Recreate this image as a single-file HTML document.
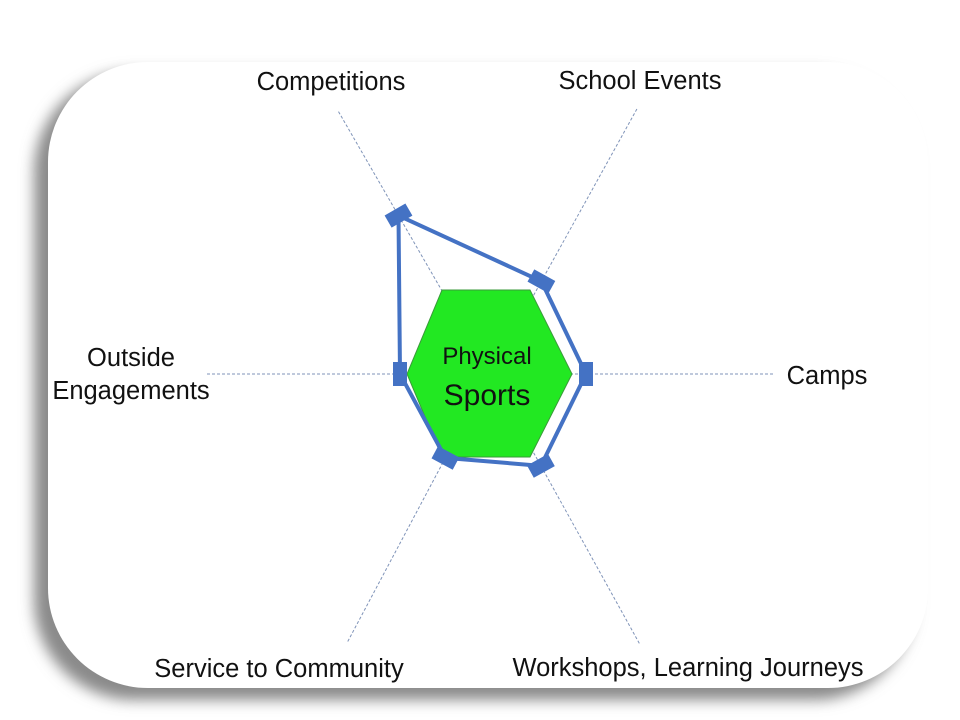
<!DOCTYPE html>
<html><head><meta charset="utf-8"><style>
html,body{margin:0;padding:0;background:#fff;width:960px;height:720px;overflow:hidden}
svg{display:block}
text{font-family:"Liberation Sans",sans-serif;fill:#111}
</style></head><body>
<svg id="chart" width="960" height="720" viewBox="0 0 960 720">
<defs>
<filter id="sh" x="-10%" y="-10%" width="120%" height="120%"><feGaussianBlur stdDeviation="7"/></filter>
</defs>
<rect x="34" y="72" width="880" height="628" rx="100" fill="#8a8a8a" filter="url(#sh)"/>
<rect x="48" y="62" width="880" height="626" rx="100" fill="#fff"/>
<g id="axes"></g>
<polygon points="442,290 530,290 572,374 530,457 442,457 407,374" fill="#22e822" stroke="#3a9a3a" stroke-width="1"/>
<text x="487" y="364" text-anchor="middle" font-size="24">Physical</text>
<text x="487" y="405" text-anchor="middle" font-size="30">Sports</text>
<g id="series"></g>
</svg>
<script>
const categories=["Camps","School Events","Competitions","Outside Engagements","Service to Community","Workshops, Learning Journeys"];
const values=[96,106,183,90,95,105];
const cx=490,cy=374;
const axisLens=[285,305,305,285,305,310];
const angles=[0,61,120,180,242,299];
const NS="http://www.w3.org/2000/svg";
function pt(v,i){const a=angles[i]*Math.PI/180;return [cx+v*Math.cos(a),cy-v*Math.sin(a)];}
const axes=document.getElementById('axes');
categories.forEach((c,i)=>{
  const [x,y]=pt(axisLens[i],i);
  const l=document.createElementNS(NS,'line');
  l.setAttribute('x1',cx);l.setAttribute('y1',cy);l.setAttribute('x2',x);l.setAttribute('y2',y);
  l.setAttribute('stroke','#7f93b8');l.setAttribute('stroke-width','1');l.setAttribute('stroke-dasharray','3,2');
  
  
  axes.appendChild(l);
});
const labels=[[827,384,["Camps"]],[640,89,["School Events"]],[331,90,["Competitions"]],[131,366,["Outside","Engagements"]],[279,677,["Service to Community"]],[688,676,["Workshops, Learning Journeys"]]];
labels.forEach((L,i)=>{
  L[2].forEach((s,k)=>{
    const t=document.createElementNS(NS,'text');
    t.setAttribute('x',L[0]);t.setAttribute('y',L[1]+k*33);t.setAttribute('text-anchor','middle');t.setAttribute('font-size','25.5');
    t.textContent=s;
    
    
    axes.appendChild(t);
  });
});
const ser=document.getElementById('series');
const poly=document.createElementNS(NS,'polygon');
poly.setAttribute('points',values.map((v,i)=>pt(v,i).join(',')).join(' '));
poly.setAttribute('fill','none');poly.setAttribute('stroke','#4472c4');poly.setAttribute('stroke-width','4');poly.setAttribute('stroke-linejoin','round');


ser.appendChild(poly);
values.forEach((v,i)=>{
  const [x,y]=pt(v,i);
  const r=document.createElementNS(NS,'rect');
  r.setAttribute('x',-7);r.setAttribute('y',-12);r.setAttribute('width',14);r.setAttribute('height',24);
  r.setAttribute('fill','#4472c4');
  r.setAttribute('transform',`translate(${x},${y}) rotate(${-angles[i]})`);
  
  
  ser.appendChild(r);
});
</script>
</body></html>
